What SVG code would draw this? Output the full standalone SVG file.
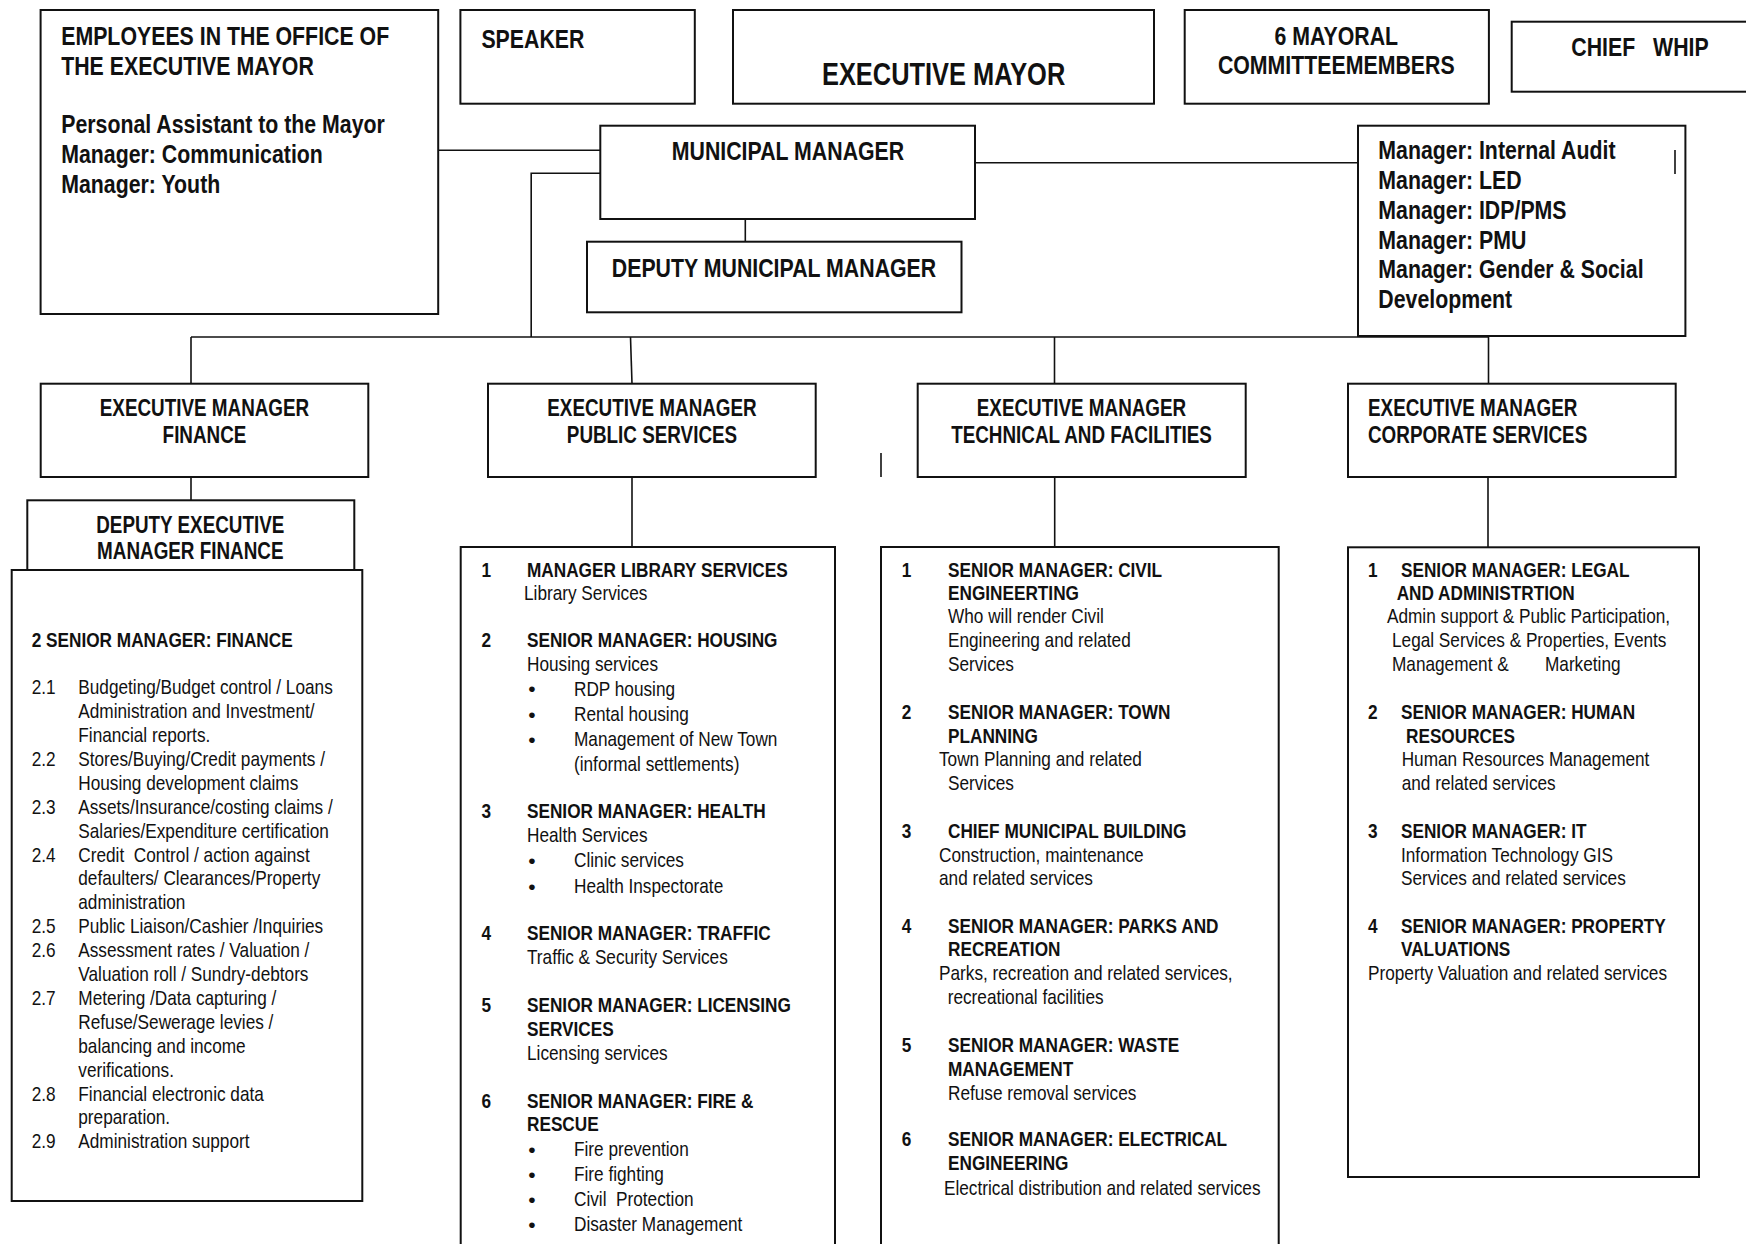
<svg xmlns="http://www.w3.org/2000/svg" width="1746" height="1244" viewBox="0 0 1746 1244">
<style>
.box{fill:#fff;stroke:#111;stroke-width:2}
.conn line,.conn polyline{stroke:#111;stroke-width:1.6;fill:none}
text{fill:#111;font-family:"Liberation Sans Narrow","Arial Narrow","Liberation Sans",sans-serif;transform-box:fill-box;transform-origin:0 50%;transform:scaleX(0.82)}
text.mid{text-anchor:middle;transform-origin:50% 50%}
text.bul{transform:none;font-family:"Liberation Sans",sans-serif}
.b31{font-size:31px;font-weight:bold}
.b26{font-size:26px;font-weight:bold}
.b23{font-size:23px;font-weight:bold}
.b21{font-size:21px;font-weight:bold}
.r21{font-size:21px}
</style>
<rect width="1746" height="1244" fill="#fff"/>
<g id="connectors" class="conn">
<line x1="438" y1="150.3" x2="600" y2="150.3"/>
<polyline points="600,173.3 531.2,173.3 531.2,337"/>
<line x1="975" y1="162.7" x2="1358" y2="162.7"/>
<line x1="745.3" y1="219" x2="745.3" y2="241.7"/>
<line x1="191" y1="337" x2="1489" y2="337"/>
<line x1="191" y1="337" x2="191" y2="384"/>
<line x1="630.5" y1="337" x2="632" y2="384"/>
<line x1="1054.5" y1="337" x2="1054.5" y2="384"/>
<line x1="1488.5" y1="337" x2="1488.5" y2="384"/>
<line x1="191" y1="477" x2="191" y2="500.3"/>
<line x1="632" y1="477" x2="632" y2="547"/>
<line x1="1054.7" y1="477" x2="1054.7" y2="547"/>
<line x1="1488" y1="477" x2="1488" y2="547"/>
<line x1="881" y1="453" x2="881" y2="477"/>
</g>
<g id="employees">
<rect class="box" x="40.6" y="10" width="397.6" height="304"/>
<text class="b26" x="61.2" y="45">EMPLOYEES IN THE OFFICE OF</text>
<text class="b26" x="61.2" y="75">THE EXECUTIVE MAYOR</text>
<text class="b26" x="61.2" y="133.3">Personal Assistant to the Mayor</text>
<text class="b26" x="61.2" y="163.3">Manager: Communication</text>
<text class="b26" x="61.2" y="193.3">Manager: Youth</text>
</g>
<g id="speaker">
<rect class="box" x="460.4" y="10" width="234.4" height="93.7"/>
<text class="b26" x="481.4" y="48.3">SPEAKER</text>
</g>
<g id="executive-mayor">
<rect class="box" x="733" y="10" width="421" height="93.7"/>
<text class="b31 mid" x="943.6" y="85">EXECUTIVE MAYOR</text>
</g>
<g id="mayoral-committee">
<rect class="box" x="1184.7" y="10" width="304.2" height="93.7"/>
<text class="b26 mid" x="1336.3" y="45">6 MAYORAL</text>
<text class="b26 mid" x="1336.3" y="74">COMMITTEEMEMBERS</text>
</g>
<g id="chief-whip">
<rect class="box" x="1511.7" y="21.7" width="245" height="70"/>
<text class="b26 mid" x="1640" y="56" xml:space="preserve">CHIEF   WHIP</text>
</g>
<g id="municipal-manager">
<rect class="box" x="600.3" y="125.7" width="374.7" height="93.3"/>
<text class="b26 mid" x="788" y="160">MUNICIPAL MANAGER</text>
</g>
<g id="deputy-municipal-manager">
<rect class="box" x="587" y="241.7" width="374.5" height="70.6"/>
<text class="b26 mid" x="774" y="276.7">DEPUTY MUNICIPAL MANAGER</text>
</g>
<g id="mm-managers">
<rect class="box" x="1358" y="125.7" width="327.4" height="210.3"/>
<text class="b26" x="1378.3" y="159.3">Manager: Internal Audit</text>
<text class="b26" x="1378.3" y="189.3">Manager: LED</text>
<text class="b26" x="1378.3" y="219">Manager: IDP/PMS</text>
<text class="b26" x="1378.3" y="249.3">Manager: PMU</text>
<text class="b26" x="1378.3" y="278.3">Manager: Gender &amp; Social</text>
<text class="b26" x="1378.3" y="308.3">Development</text>
<line x1="1675" y1="150" x2="1675" y2="174" stroke="#111" stroke-width="1.6"/>
</g>
<g id="exec-finance">
<rect class="box" x="40.7" y="383.7" width="327.6" height="93.3"/>
<text class="b23 mid" x="204.5" y="416">EXECUTIVE MANAGER</text>
<text class="b23 mid" x="204.5" y="442.7">FINANCE</text>
</g>
<g id="deputy-finance">
<rect class="box" x="27.3" y="500.3" width="327" height="69.7"/>
<text class="b23 mid" x="190.3" y="532.7">DEPUTY EXECUTIVE</text>
<text class="b23 mid" x="190.3" y="559.3">MANAGER FINANCE</text>
</g>
<g id="finance-list">
<rect class="box" x="11.7" y="570" width="350.6" height="631"/>
<text class="b21" x="31.7" y="647.3">2 SENIOR MANAGER: FINANCE</text>
<text class="r21" x="31.7" y="694.3">2.1</text><text class="r21" x="78.3" y="694.3">Budgeting/Budget control / Loans</text>
<text class="r21" x="78.3" y="718.2">Administration and Investment/</text>
<text class="r21" x="78.3" y="742.1">Financial reports.</text>
<text class="r21" x="31.7" y="766">2.2</text><text class="r21" x="78.3" y="766">Stores/Buying/Credit payments /</text>
<text class="r21" x="78.3" y="789.9">Housing development claims</text>
<text class="r21" x="31.7" y="813.8">2.3</text><text class="r21" x="78.3" y="813.8">Assets/Insurance/costing claims /</text>
<text class="r21" x="78.3" y="837.7">Salaries/Expenditure certification</text>
<text class="r21" x="31.7" y="861.6">2.4</text><text class="r21" x="78.3" y="861.6" xml:space="preserve">Credit  Control / action against</text>
<text class="r21" x="78.3" y="885.5">defaulters/ Clearances/Property</text>
<text class="r21" x="78.3" y="909.4">administration</text>
<text class="r21" x="31.7" y="933.3">2.5</text><text class="r21" x="78.3" y="933.3">Public Liaison/Cashier /Inquiries</text>
<text class="r21" x="31.7" y="957.2">2.6</text><text class="r21" x="78.3" y="957.2">Assessment rates / Valuation /</text>
<text class="r21" x="78.3" y="981.1">Valuation roll / Sundry-debtors</text>
<text class="r21" x="31.7" y="1005">2.7</text><text class="r21" x="78.3" y="1005">Metering /Data capturing /</text>
<text class="r21" x="78.3" y="1028.9">Refuse/Sewerage levies /</text>
<text class="r21" x="78.3" y="1052.8">balancing and income</text>
<text class="r21" x="78.3" y="1076.7">verifications.</text>
<text class="r21" x="31.7" y="1100.6">2.8</text><text class="r21" x="78.3" y="1100.6">Financial electronic data</text>
<text class="r21" x="78.3" y="1124.5">preparation.</text>
<text class="r21" x="31.7" y="1148.4">2.9</text><text class="r21" x="78.3" y="1148.4">Administration support</text>
</g>
<g id="exec-public">
<rect class="box" x="488" y="383.7" width="327.7" height="93.3"/>
<text class="b23 mid" x="652" y="416">EXECUTIVE MANAGER</text>
<text class="b23 mid" x="652" y="442.7">PUBLIC SERVICES</text>
</g>
<g id="public-list">
<rect class="box" x="460.7" y="547" width="374.3" height="720"/>
<text class="b21" x="481.5" y="576.7">1</text><text class="b21" x="527" y="576.7">MANAGER LIBRARY SERVICES</text>
<text class="r21" x="524" y="600.5">Library Services</text>
<text class="b21" x="481.5" y="647.5">2</text><text class="b21" x="527" y="647.5">SENIOR MANAGER: HOUSING</text>
<text class="r21" x="527" y="671">Housing services</text>
<text class="r21 mid bul" x="532" y="696">•</text><text class="r21" x="574" y="696">RDP housing</text>
<text class="r21 mid bul" x="532" y="721.5">•</text><text class="r21" x="574" y="721.5">Rental housing</text>
<text class="r21 mid bul" x="532" y="746.5">•</text><text class="r21" x="574" y="746.5">Management of New Town</text>
<text class="r21" x="574" y="771">(informal settlements)</text>
<text class="b21" x="481.5" y="818.5">3</text><text class="b21" x="527" y="818.5">SENIOR MANAGER: HEALTH</text>
<text class="r21" x="527" y="842.5">Health Services</text>
<text class="r21 mid bul" x="532" y="867.5">•</text><text class="r21" x="574" y="867.5">Clinic services</text>
<text class="r21 mid bul" x="532" y="893.5">•</text><text class="r21" x="574" y="893.5">Health Inspectorate</text>
<text class="b21" x="481.5" y="940.5">4</text><text class="b21" x="527" y="940.5">SENIOR MANAGER: TRAFFIC</text>
<text class="r21" x="527" y="964">Traffic &amp; Security Services</text>
<text class="b21" x="481.5" y="1012.5">5</text><text class="b21" x="527" y="1012.5">SENIOR MANAGER: LICENSING</text>
<text class="b21" x="527" y="1036">SERVICES</text>
<text class="r21" x="527" y="1060">Licensing services</text>
<text class="b21" x="481.5" y="1108">6</text><text class="b21" x="527" y="1108">SENIOR MANAGER: FIRE &amp;</text>
<text class="b21" x="527" y="1131.5">RESCUE</text>
<text class="r21 mid bul" x="532" y="1156.5">•</text><text class="r21" x="574" y="1156.5">Fire prevention</text>
<text class="r21 mid bul" x="532" y="1181.5">•</text><text class="r21" x="574" y="1181.5">Fire fighting</text>
<text class="r21 mid bul" x="532" y="1206.5">•</text><text class="r21" x="574" y="1206.5" xml:space="preserve">Civil  Protection</text>
<text class="r21 mid bul" x="532" y="1231.5">•</text><text class="r21" x="574" y="1231.5">Disaster Management</text>
</g>
<g id="exec-technical">
<rect class="box" x="917.7" y="383.7" width="328" height="93.3"/>
<text class="b23 mid" x="1081.5" y="416">EXECUTIVE MANAGER</text>
<text class="b23 mid" x="1081.5" y="442.7">TECHNICAL AND FACILITIES</text>
</g>
<g id="technical-list">
<rect class="box" x="881" y="547" width="397.7" height="720"/>
<text class="b21" x="901.7" y="576.7">1</text><text class="b21" x="948" y="576.7">SENIOR MANAGER: CIVIL</text>
<text class="b21" x="948" y="600">ENGINEERTING</text>
<text class="r21" x="948" y="623.5">Who will render Civil</text>
<text class="r21" x="948" y="647.5">Engineering and related</text>
<text class="r21" x="948" y="671">Services</text>
<text class="b21" x="901.7" y="719.5">2</text><text class="b21" x="948" y="719.5">SENIOR MANAGER: TOWN</text>
<text class="b21" x="948" y="743">PLANNING</text>
<text class="r21" x="939" y="766.5">Town Planning and related</text>
<text class="r21" x="948" y="790">Services</text>
<text class="b21" x="901.7" y="838">3</text><text class="b21" x="948" y="838">CHIEF MUNICIPAL BUILDING</text>
<text class="r21" x="939" y="862.5">Construction, maintenance</text>
<text class="r21" x="939" y="885.5">and related services</text>
<text class="b21" x="901.7" y="933">4</text><text class="b21" x="948" y="933">SENIOR MANAGER: PARKS AND</text>
<text class="b21" x="948" y="956.5">RECREATION</text>
<text class="r21" x="939" y="980.5">Parks, recreation and related services,</text>
<text class="r21" x="947.7" y="1004">recreational facilities</text>
<text class="b21" x="901.7" y="1052.5">5</text><text class="b21" x="948" y="1052.5">SENIOR MANAGER: WASTE</text>
<text class="b21" x="948" y="1076">MANAGEMENT</text>
<text class="r21" x="948" y="1100">Refuse removal services</text>
<text class="b21" x="901.7" y="1146.5">6</text><text class="b21" x="948" y="1146.5">SENIOR MANAGER: ELECTRICAL</text>
<text class="b21" x="948" y="1170">ENGINEERING</text>
<text class="r21" x="944" y="1195.5">Electrical distribution and related services</text>
</g>
<g id="exec-corporate">
<rect class="box" x="1348" y="383.7" width="327.7" height="93.3"/>
<text class="b23" x="1368" y="416">EXECUTIVE MANAGER</text>
<text class="b23" x="1368" y="442.7">CORPORATE SERVICES</text>
</g>
<g id="corporate-list">
<rect class="box" x="1348" y="547.3" width="351" height="629.7"/>
<text class="b21" x="1368" y="576.7">1</text><text class="b21" x="1401" y="576.7">SENIOR MANAGER: LEGAL</text>
<text class="b21" x="1396.7" y="600">AND ADMINISTRTION</text>
<text class="r21" x="1387" y="623.5">Admin support &amp; Public Participation,</text>
<text class="r21" x="1392" y="647.5">Legal Services &amp; Properties, Events</text>
<text class="r21" x="1392" y="671">Management &amp;</text><text class="r21" x="1545" y="671">Marketing</text>
<text class="b21" x="1368" y="719.5">2</text><text class="b21" x="1401" y="719.5">SENIOR MANAGER: HUMAN</text>
<text class="b21" x="1406" y="743">RESOURCES</text>
<text class="r21" x="1401.7" y="766.5">Human Resources Management</text>
<text class="r21" x="1401.7" y="790">and related services</text>
<text class="b21" x="1368" y="838">3</text><text class="b21" x="1401" y="838">SENIOR MANAGER: IT</text>
<text class="r21" x="1401" y="862.5">Information Technology GIS</text>
<text class="r21" x="1401" y="885.5">Services and related services</text>
<text class="b21" x="1368" y="933">4</text><text class="b21" x="1401" y="933">SENIOR MANAGER: PROPERTY</text>
<text class="b21" x="1401" y="956.5">VALUATIONS</text>
<text class="r21" x="1368" y="980.5">Property Valuation and related services</text>
</g>
</svg>
